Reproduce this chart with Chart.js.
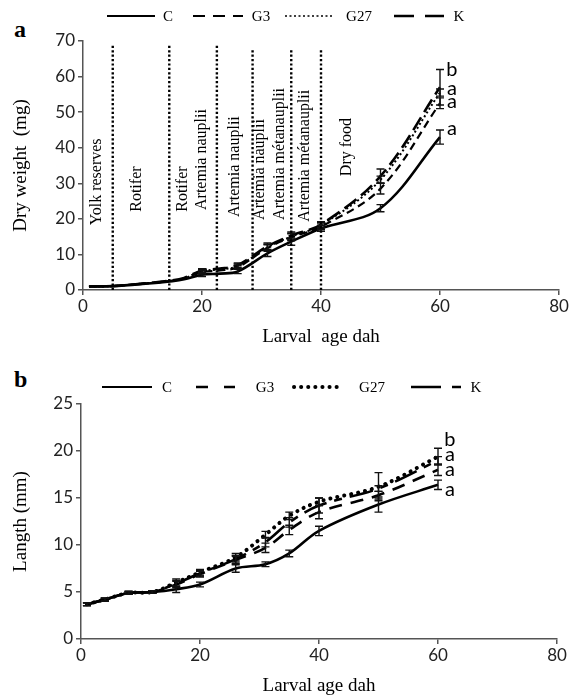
<!DOCTYPE html>
<html>
<head>
<meta charset="utf-8">
<script src="https://cdn.jsdelivr.net/npm/chart.js@4.4.0/dist/chart.umd.min.js"></script>
<style>
  html, body { margin: 0; padding: 0; background: #fff; width: 578px; height: 697px; overflow: hidden; }
  .panel { position: absolute; left: 0; }
  .tag { position: absolute; font: bold 24px "Liberation Serif", serif; color: #000; }
</style>
</head>
<body>
<div class="tag" style="left:14px;top:16px">a</div>
<div class="tag" style="left:14px;top:366px">b</div>
<canvas id="chartA" class="panel" style="top:0" width="578" height="350"></canvas>
<canvas id="chartB" class="panel" style="top:346px" width="578" height="351"></canvas>
<script>
// ---- data ----
const seriesNames = ["C", "G3", "G27", "K"];
const xTicks = [0, 20, 40, 60, 80];

// panel a : dry weight (mg)
const daysA = [1, 5, 10, 15, 17, 20, 23, 26, 31, 35, 40, 50, 60];
const weightC   = [1.0, 1.1, 1.7, 2.5, 3.0, 4.3, 4.6, 5.2, 10.3, 13.6, 17.3, 23.0, 43.0];
const weightG3  = [1.0, 1.1, 1.8, 2.6, 3.3, 5.0, 5.5, 6.4, 11.8, 14.8, 17.8, 28.5, 52.5];
const weightG27 = [1.0, 1.1, 1.8, 2.6, 3.3, 5.3, 5.8, 6.7, 12.0, 15.0, 18.2, 31.0, 55.5];
const weightK   = [1.0, 1.1, 1.8, 2.7, 3.4, 5.5, 6.0, 7.0, 12.3, 15.3, 18.4, 32.0, 57.0];
const errWeightC   = [null, null, null, null, null, 0.5, null, 0.6, 0.9, 1.0, 0.8, 1.0, 2.0];
const errWeightG3  = [null, null, null, null, null, 0.5, null, 0.6, 0.9, 1.0, 0.8, 1.5, 1.5];
const errWeightG27 = [null, null, null, null, null, 0.5, null, 0.6, 0.9, 1.0, 0.8, 1.0, 1.0];
const errWeightK   = [null, null, null, null, null, 0.5, null, 0.6, 0.9, 1.0, 0.8, 2.0, 5.0];
const yTicksA = [0, 10, 20, 30, 40, 50, 60, 70];

// feeding stages (panel a)
const stageDays = [5, 14.5, 22.5, 28.5, 35, 40];
const stageNames = ["Yolk reserves", "Rotifer", "Rotifer", "Artemia nauplii", "Artemia nauplii",
  "Artemia nauplii", "Artemia métanauplii", "Artemia métanauplii", "Dry food"];

// panel b : length (mm)
const daysB = [1, 4, 8, 12, 16, 20, 26, 31, 35, 40, 50, 60];
const lengthC   = [3.7, 4.2, 4.9, 5.0, 5.3, 5.8, 7.5, 7.95, 9.1, 11.5, 14.3, 16.4];
const lengthG3  = [3.7, 4.2, 4.9, 5.0, 5.8, 6.9, 8.4, 9.7, 11.6, 13.5, 15.3, 18.0];
const lengthG27 = [3.7, 4.2, 4.9, 5.0, 6.0, 7.1, 8.7, 11.1, 13.1, 14.6, 16.2, 19.4];
const lengthK   = [3.7, 4.2, 4.9, 5.0, 5.9, 7.0, 8.5, 10.3, 12.4, 14.2, 16.0, 19.0];
const errLengthC   = [0.15, 0.15, 0.15, 0.15, 0.35, 0.25, 0.4, 0.25, 0.35, 0.5, 0.8, 0.5];
const errLengthG3  = [0.15, 0.15, 0.15, 0.15, 0.35, 0.3, 0.4, 0.5, 0.5, 0.7, 0.4, 0.6];
const errLengthG27 = [0.15, 0.15, 0.15, 0.15, 0.4, 0.3, 0.4, 0.35, 0.4, 0.4, 1.5, 0.9];
const errLengthK   = [0.15, 0.15, 0.15, 0.15, 0.35, 0.3, 0.4, 0.5, 0.5, 0.8, 0.3, 0.4];
const yTicksB = [0, 5, 10, 15, 20, 25];

// significance letters at day 60
const lettersA = ["b", "a", "a", "a"];
const lettersB = ["b", "a", "a", "a"];

// ---- helpers ----
const pts = (xs, ys) => xs.map((x, i) => ({ x, y: ys[i] }));
const tickFont = { family: "Lato", size: 17 };
const titleFont = { family: "Liberation Serif", size: 19 };

// error bars drawn through the chart scales
const errorBars = {
  id: "errorBars",
  afterDatasetsDraw(chart) {
    const { ctx, scales: { x, y } } = chart;
    ctx.save();
    ctx.strokeStyle = "#111";
    ctx.lineWidth = 1.4;
    chart.data.datasets.forEach(ds => {
      (ds.errors || []).forEach((e, i) => {
        if (e == null) return;
        const p = ds.data[i];
        const px = x.getPixelForValue(p.x);
        const top = y.getPixelForValue(p.y + e), bot = y.getPixelForValue(p.y - e);
        ctx.beginPath();
        ctx.moveTo(px, top); ctx.lineTo(px, bot);
        ctx.moveTo(px - 4, top); ctx.lineTo(px + 4, top);
        ctx.moveTo(px - 4, bot); ctx.lineTo(px + 4, bot);
        ctx.stroke();
      });
    });
    ctx.restore();
  }
};

// line key across the top of each panel
const lineKey = {
  id: "lineKey",
  afterDraw(chart, args, opts) {
    const ctx = chart.ctx;
    chart.data.datasets.forEach((ds, i) => {
      const it = opts.items[i];
      ctx.save();
      ctx.strokeStyle = "#000";
      ctx.lineWidth = opts.widths[i];
      ctx.lineCap = ds.borderCapStyle || "butt";
      ctx.setLineDash(opts.dashes[i]);
      ctx.beginPath();
      ctx.moveTo(it[0], opts.y); ctx.lineTo(it[1], opts.y);
      ctx.stroke();
      ctx.setLineDash([]);
      ctx.fillStyle = "#000";
      ctx.font = '15px "Liberation Serif"';
      ctx.textAlign = "center";
      ctx.textBaseline = "middle";
      ctx.fillText(ds.label, it[2], opts.y + 1);
      ctx.restore();
    });
  }
};

// letters and stage annotations in data coordinates
const notes = {
  id: "notes",
  afterDatasetsDraw(chart, args, opts) {
    const { ctx, scales: { x, y } } = chart;
    ctx.save();
    ctx.fillStyle = "#000";
    (opts.vlines || []).forEach(v => {
      ctx.strokeStyle = "#000";
      ctx.lineWidth = 2.4;
      ctx.setLineDash([2.2, 2.2]);
      ctx.beginPath();
      ctx.moveTo(x.getPixelForValue(v.x), y.getPixelForValue(0));
      ctx.lineTo(x.getPixelForValue(v.x), y.getPixelForValue(v.top));
      ctx.stroke();
    });
    ctx.setLineDash([]);
    ctx.font = '16px "Liberation Serif"';
    ctx.textAlign = "left";
    ctx.textBaseline = "middle";
    (opts.labels || []).forEach(l => {
      ctx.save();
      ctx.translate(x.getPixelForValue(l.x), y.getPixelForValue(l.y));
      ctx.rotate(-Math.PI / 2);
      ctx.fillText(l.text, 0, 0);
      ctx.restore();
    });
    ctx.font = '20px "Lato"';
    ctx.textAlign = "center";
    (opts.letters || []).forEach(l => {
      ctx.fillText(l.text, x.getPixelForValue(l.x), y.getPixelForValue(l.y));
    });
    ctx.restore();
  }
};

function axes(yMax, yStep, yTitle, xTitle, yWidth, xHeight, xTitlePad) {
  const grid = { drawOnChartArea: false, tickLength: 5, color: "#555", lineWidth: 1.5 };
  const border = { color: "#555", width: 1.5 };
  return {
    x: {
      type: "linear", min: 0, max: 80,
      ticks: { stepSize: 20, font: tickFont, color: "#222", padding: 1, maxRotation: 0 },
      grid, border,
      title: { display: true, text: xTitle, font: titleFont, color: "#000", padding: { top: 0, bottom: xTitlePad } },
      afterFit(s) { s.height = xHeight; }
    },
    y: {
      min: 0, max: yMax,
      ticks: { stepSize: yStep, font: tickFont, color: "#222", padding: 3 },
      grid, border,
      title: { display: true, text: yTitle, font: titleFont, color: "#000", padding: { top: 2, bottom: 0 } },
      afterFit(s) { s.width = yWidth; }
    }
  };
}

function build(canvasId, days, vals, errs, styles, scales, padding, keyOpts, noteOpts) {
  return new Chart(document.getElementById(canvasId), {
    type: "line",
    data: {
      datasets: seriesNames.map((name, i) => ({
        label: name,
        data: pts(days, vals[i]),
        errors: errs[i],
        borderColor: "#000",
        borderWidth: styles[i].w,
        borderDash: styles[i].dash,
        borderCapStyle: styles[i].cap || "butt",
        pointRadius: 0,
        tension: 0.35,
        fill: false
      }))
    },
    options: {
      responsive: false,
      animation: false,
      layout: { padding },
      scales,
      plugins: {
        legend: { display: false },
        tooltip: { enabled: false },
        lineKey: keyOpts,
        notes: noteOpts
      }
    },
    plugins: [errorBars, notes, lineKey]
  });
}

// panel a
build("chartA", daysA,
  [weightC, weightG3, weightG27, weightK],
  [errWeightC, errWeightG3, errWeightG27, errWeightK],
  [{ w: 2.6, dash: [] }, { w: 2.2, dash: [8, 5] }, { w: 2, dash: [2, 2.5] }, { w: 2.6, dash: [15, 6] }],
  axes(70, 10, "Dry weight  (mg)", "Larval  age dah", 75, 60, 2),
  { left: 8, right: 19, top: 41, bottom: 0 },
  { y: 16, items: [[107, 155, 168], [193, 243, 261], [285, 333, 359], [394, 444, 459]],
    widths: [2.2, 2.2, 1.6, 2.6], dashes: [[], [12, 8], [2, 2.5], [20, 11]] },
  {
    vlines: stageDays.map((d, i) => ({ x: d, top: i < 3 ? 69 : 68 })),
    labels: stageNames.map((t, i) => ({ text: t,
      x: [2.4, 9.1, 16.8, 20, 25.5, 29.7, 33.1, 37.3, 44.4][i],
      y: [18.2, 22, 22, 22.5, 20.5, 19.7, 19.7, 19.2, 32][i] })),
    letters: lettersA.map((t, i) => ({ text: t, x: 62, y: [62, 56.5, 53, 45.5][i] }))
  });

// panel b
build("chartB", daysB,
  [lengthC, lengthG3, lengthG27, lengthK],
  [errLengthC, errLengthG3, errLengthG27, errLengthK],
  [{ w: 2.6, dash: [] }, { w: 2.6, dash: [13, 9] }, { w: 4, dash: [0.1, 7], cap: "round" }, { w: 2.6, dash: [24, 8, 8, 8] }],
  axes(25, 5, "Langth (mm)", "Larval age dah", 73, 58, 0),
  { left: 8, right: 21, top: 58, bottom: 0 },
  { y: 41, items: [[102, 152, 167], [196, 235, 265], [294, 341, 372], [411, 461, 476]],
    widths: [2.2, 2.6, 4, 2.6], dashes: [[], [12, 16], [0.1, 7], [30, 11, 9, 30]] },
  {
    letters: lettersB.map((t, i) => ({ text: t, x: 62, y: [21.2, 19.6, 18.0, 15.9][i] }))
  });
</script>
</body>
</html>
